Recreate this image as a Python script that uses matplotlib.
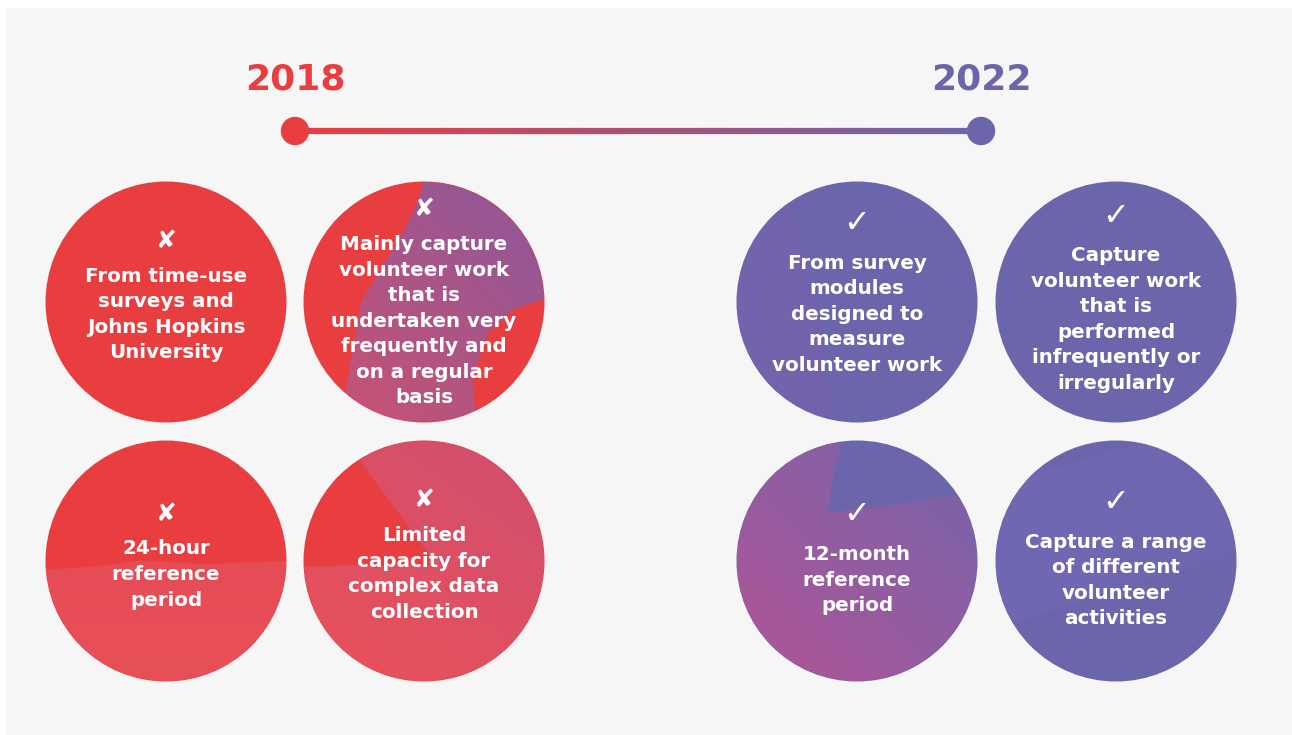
import numpy as np
import matplotlib
matplotlib.use("Agg")
import matplotlib.pyplot as plt
from matplotlib.patches import Circle, Rectangle
from matplotlib.collections import LineCollection
from matplotlib.path import Path

# ---------------- data ----------------
years = ["2018", "2022"]
left_items = [
    "From time-use\nsurveys and\nJohns Hopkins\nUniversity",
    "Mainly capture\nvolunteer work\nthat is\nundertaken very\nfrequently and\non a regular\nbasis",
    "24-hour\nreference\nperiod",
    "Limited\ncapacity for\ncomplex data\ncollection",
]
right_items = [
    "From survey\nmodules\ndesigned to\nmeasure\nvolunteer work",
    "Capture\nvolunteer work\nthat is\nperformed\ninfrequently or\nirregularly",
    "12-month\nreference\nperiod",
    "Capture a range\nof different\nvolunteer\nactivities",
]
left_icon = "\u2718"   # cross
right_icon = "\u2713"  # check

# ---------------- style / layout ----------------
RED = np.array([233, 62, 64]) / 255
PURPLE = np.array([107, 101, 172]) / 255
BG = "#F6F6F6"
W, H = 1292, 735

fig = plt.figure(figsize=(W / 100, H / 100), dpi=100)
fig.patch.set_facecolor("white")
ax = fig.add_axes([0, 0, 1, 1])
ax.set_xlim(0, W)
ax.set_ylim(H, 0)
ax.axis("off")

ax.add_patch(Rectangle((6, 8), W - 6, H - 8, facecolor=BG, edgecolor="none", zorder=0))

# timeline
x0, x1, ty = 295, 981, 131
xs = np.linspace(x0, x1, 200)
segs = [[(xs[i], ty), (xs[i + 1], ty)] for i in range(len(xs) - 1)]
cols = [RED * (1 - t) + PURPLE * t for t in np.linspace(0, 1, len(segs))]
ax.add_collection(LineCollection(segs, colors=cols, linewidths=4.5, zorder=2))
ax.add_patch(Circle((x0, ty), 13.5, color=RED, zorder=3))
ax.add_patch(Circle((x1, ty), 13.5, color=PURPLE, zorder=3))
ax.text(x0, 89, years[0], color=RED, fontsize=26, fontweight="heavy",
        ha="center", va="baseline", family="DejaVu Sans")
ax.text(x1, 89, years[1], color=PURPLE, fontsize=26, fontweight="heavy",
        ha="center", va="baseline", family="DejaVu Sans")

R = 120.5
centers_left = [(166, 302), (424, 302), (166, 561), (424, 561)]
centers_right = [(857, 302), (1116, 302), (857, 561), (1116, 561)]
# vertical offset of each text block's baseline-centre below circle centre
offs_left = [18, 24.5, 19, 18.5]
offs_right = [17.5, 23, 24.5, 25]


def texture(cx, cy, poly, c0, c1, direction):
    """Watercolor-like overlay inside a circle: gradient masked by polygon."""
    N = 300
    u = np.linspace(-1, 1, N)
    U, V = np.meshgrid(u, u)
    d = np.array(direction, float)
    d /= np.linalg.norm(d)
    t = (U * d[0] + V * d[1])
    t = (t - t.min()) / (t.max() - t.min())
    img = np.zeros((N, N, 4))
    c0 = np.array(c0) / 255
    c1 = np.array(c1) / 255
    for k in range(3):
        img[..., k] = c0[k] * (1 - t) + c1[k] * t
    pts = np.column_stack([U.ravel(), V.ravel()])
    inside = Path(poly).contains_points(pts).reshape(N, N)
    img[..., 3] = inside.astype(float)
    im = ax.imshow(img, extent=(cx - R, cx + R, cy + R, cy - R), origin="upper",
                   aspect="auto", zorder=1.5, interpolation="bilinear")
    clip = Circle((cx, cy), R - 0.5, transform=ax.transData)
    im.set_clip_path(clip)


for (cx, cy) in centers_left:
    ax.add_patch(Circle((cx, cy), R, color=RED, zorder=1, lw=0))
for (cx, cy) in centers_right:
    ax.add_patch(Circle((cx, cy), R, color=PURPLE, zorder=1, lw=0))

# textures
texture(*centers_left[1],
        [(0.02, -1.1), (1.1, -1.1), (1.1, -0.06), (0.75, 0.05), (0.52, 0.26),
         (0.4, 0.64), (0.44, 1.1), (-0.7, 1.1), (-0.67, 0.81), (-0.6, 0.4),
         (-0.53, 0.0), (-0.35, -0.3), (-0.17, -0.6), (-0.05, -0.85)],
        (140, 88, 155), (205, 82, 112), (-1, 1))
texture(*centers_left[2],
        [(-1.1, 0.08), (-0.6, 0.05), (-0.2, 0.0), (0.3, 0.03), (1.1, 0.0),
         (1.1, 1.1), (-1.1, 1.1)],
        (228, 72, 82), (232, 80, 88), (0, 1))
texture(*centers_left[3],
        [(-0.6, -1.1), (1.1, -1.1), (1.1, 1.1), (-1.1, 1.1), (-1.1, 0.05),
         (0.1, 0.03), (-0.53, -0.82)],
        (208, 78, 112), (234, 82, 88), (-1, 1.4))
texture(*centers_right[2],
        [(-1.1, -1.1), (-0.1, -1.1), (-0.2, -0.7), (-0.25, -0.4), (0.2, -0.45),
         (1.1, -0.6), (1.1, 1.1), (-1.1, 1.1)],
        (178, 85, 150), (116, 100, 172), (1, -1))
texture(*centers_right[0],
        [(-1.1, -0.7), (-0.6, -1.0), (-0.3, 0.2), (-0.2, 1.1), (-1.1, 1.1)],
        (116, 98, 172), (112, 100, 172), (1, 0))
texture(*centers_right[3],
        [(-1.1, -0.6), (0.6, -1.1), (1.1, -0.9), (1.1, -0.1), (-1.1, 0.6)],
        (112, 104, 178), (110, 103, 176), (1, 0))

# text
LINE = 25.5
FS = 14.3


def put_items(centers, items, offs, icon, icon_fs, icon_gap):
    for (cx, cy), txt, off in zip(centers, items, offs):
        lines = txt.split("\n")
        n = len(lines)
        first = cy + off - (n - 1) * LINE / 2
        for i, ln in enumerate(lines):
            ax.text(cx, first + i * LINE, ln, color="white", fontsize=FS,
                    fontweight="bold", ha="center", va="baseline",
                    family="DejaVu Sans", zorder=4)
        ax.text(cx, first - icon_gap, icon, color="white", fontsize=icon_fs,
                fontweight="bold", ha="center", va="center",
                family="DejaVu Sans", zorder=4)


put_items(centers_left, left_items, offs_left, left_icon, 18, 41)
put_items(centers_right, right_items, offs_right, right_icon, 23, 45)

fig.savefig("out.png", dpi=100, facecolor="white")
